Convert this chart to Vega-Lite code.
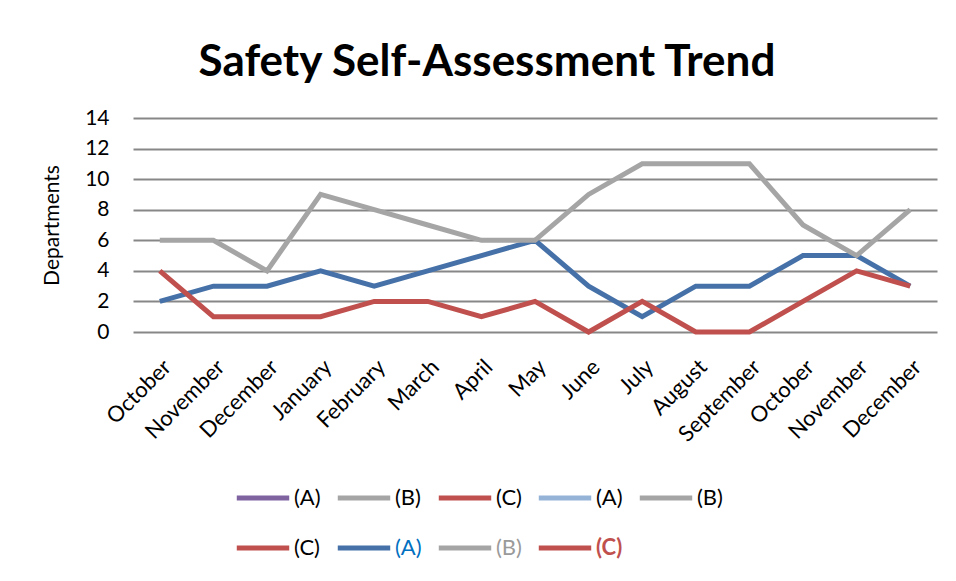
{
  "$schema": "https://vega.github.io/schema/vega-lite/v6.json",
  "autosize": "none",
  "width": 804,
  "height": 214,
  "padding": {"left": 133, "top": 118, "right": 19, "bottom": 249},
  "background": "white",
  "title": {
    "text": "Safety Self-Assessment Trend",
    "font": "Lato",
    "fontSize": 44,
    "fontWeight": "bold",
    "color": "#000000",
    "anchor": "middle",
    "dx": -48,
    "baseline": "alphabetic",
    "offset": -13
  },
  "config": {
    "view": {"stroke": null},
    "font": "Lato"
  },
  "data": {
    "values": [
      {"idx": 1, "series": "A", "value": 2},
      {"idx": 2, "series": "A", "value": 3},
      {"idx": 3, "series": "A", "value": 3},
      {"idx": 4, "series": "A", "value": 4},
      {"idx": 5, "series": "A", "value": 3},
      {"idx": 6, "series": "A", "value": 4},
      {"idx": 7, "series": "A", "value": 5},
      {"idx": 8, "series": "A", "value": 6},
      {"idx": 9, "series": "A", "value": 3},
      {"idx": 10, "series": "A", "value": 1},
      {"idx": 11, "series": "A", "value": 3},
      {"idx": 12, "series": "A", "value": 3},
      {"idx": 13, "series": "A", "value": 5},
      {"idx": 14, "series": "A", "value": 5},
      {"idx": 15, "series": "A", "value": 3},
      {"idx": 1, "series": "B", "value": 6},
      {"idx": 2, "series": "B", "value": 6},
      {"idx": 3, "series": "B", "value": 4},
      {"idx": 4, "series": "B", "value": 9},
      {"idx": 5, "series": "B", "value": 8},
      {"idx": 6, "series": "B", "value": 7},
      {"idx": 7, "series": "B", "value": 6},
      {"idx": 8, "series": "B", "value": 6},
      {"idx": 9, "series": "B", "value": 9},
      {"idx": 10, "series": "B", "value": 11},
      {"idx": 11, "series": "B", "value": 11},
      {"idx": 12, "series": "B", "value": 11},
      {"idx": 13, "series": "B", "value": 7},
      {"idx": 14, "series": "B", "value": 5},
      {"idx": 15, "series": "B", "value": 8},
      {"idx": 1, "series": "C", "value": 4},
      {"idx": 2, "series": "C", "value": 1},
      {"idx": 3, "series": "C", "value": 1},
      {"idx": 4, "series": "C", "value": 1},
      {"idx": 5, "series": "C", "value": 2},
      {"idx": 6, "series": "C", "value": 2},
      {"idx": 7, "series": "C", "value": 1},
      {"idx": 8, "series": "C", "value": 2},
      {"idx": 9, "series": "C", "value": 0},
      {"idx": 10, "series": "C", "value": 2},
      {"idx": 11, "series": "C", "value": 0},
      {"idx": 12, "series": "C", "value": 0},
      {"idx": 13, "series": "C", "value": 2},
      {"idx": 14, "series": "C", "value": 4},
      {"idx": 15, "series": "C", "value": 3}
    ]
  },
  "mark": {"type": "line", "strokeWidth": 5},
  "encoding": {
    "x": {
      "field": "idx",
      "type": "ordinal",
      "scale": {"type": "point", "padding": 0.5},
      "axis": {
        "title": null,
        "labelExpr": "['October','November','December','January','February','March','April','May','June','July','August','September','October','November','December'][datum.value-1]",
        "labelAngle": -45,
        "labelAlign": "right",
        "labelBaseline": "top",
        "labelFont": "Lato",
        "labelFontSize": 22,
        "labelColor": "#000000",
        "labelPadding": 24,
        "domain": false,
        "ticks": false,
        "grid": false
      }
    },
    "y": {
      "field": "value",
      "type": "quantitative",
      "scale": {"domain": [0, 14], "nice": false},
      "axis": {
        "title": "Departments",
        "titleFont": "Lato",
        "titleFontSize": 21,
        "titleFontWeight": "normal",
        "titleColor": "#000000",
        "titlePadding": 22,
        "values": [0, 2, 4, 6, 8, 10, 12, 14],
        "labelFont": "Lato",
        "labelFontSize": 21,
        "labelColor": "#000000",
        "labelPadding": 24,
        "domain": false,
        "ticks": false,
        "grid": true,
        "gridColor": "#878787",
        "gridWidth": 2,
        "gridOpacity": 1
      }
    },
    "color": {
      "field": "series",
      "type": "nominal",
      "scale": {
        "domain": ["a1", "b1", "c1", "a2", "b2", "c2", "A", "B", "C"],
        "range": ["#7F63A1", "#A5A5A5", "#C0504D", "#95B3D7", "#A5A5A5", "#C0504D", "#4571A8", "#A5A5A5", "#C0504D"]
      },
      "legend": {
        "title": null,
        "orient": "none",
        "legendX": 101,
        "legendY": 351,
        "direction": "horizontal",
        "columns": 5,
        "symbolType": "stroke",
        "symbolSize": 2750,
        "symbolStrokeWidth": 5,
        "labelFont": "Lato",
        "labelFontSize": 22,
        "labelOffset": 2,
        "labelLimit": 0,
        "columnPadding": 6,
        "rowPadding": 10,
        "labelExpr": "'(' + upper(datum.value[0]) + ')'",
        "encode": {
          "labels": {
            "update": {
              "fill": {"signal": "datum.value === 'A' ? '#0070C0' : datum.value === 'B' ? '#9A9A9A' : datum.value === 'C' ? '#C0504D' : '#000000'"},
              "fontWeight": {"signal": "datum.value === 'C' ? 'bold' : 'normal'"}
            }
          }
        }
      }
    }
  }
}
